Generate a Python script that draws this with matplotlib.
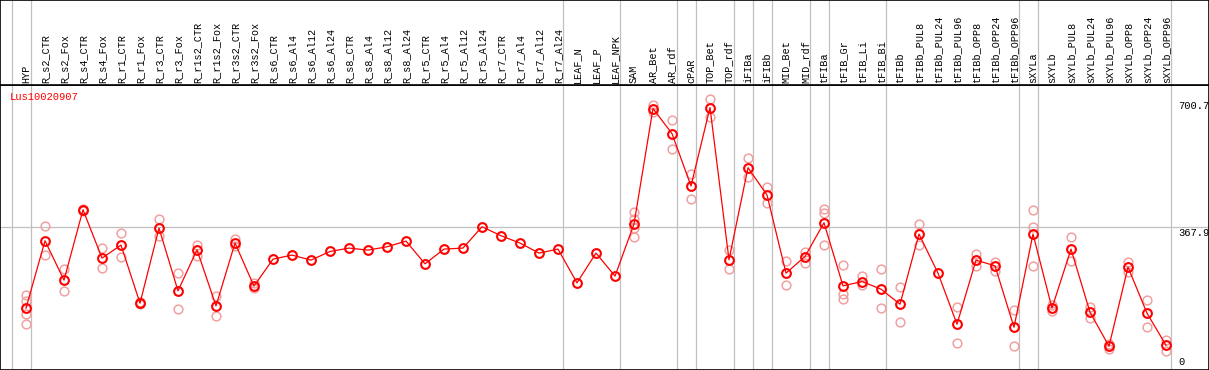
import matplotlib
matplotlib.use('Agg')
import matplotlib.pyplot as plt

### Data

samples = ['HYP', 'R_s2_CTR', 'R_s2_Fox', 'R_s4_CTR', 'R_s4_Fox', 'R_r1_CTR', 'R_r1_Fox',
           'R_r3_CTR', 'R_r3_Fox', 'R_r1s2_CTR', 'R_r1s2_Fox', 'R_r3s2_CTR', 'R_r3s2_Fox',
           'R_s6_CTR', 'R_s6_Al4', 'R_s6_Al12', 'R_s6_Al24', 'R_s8_CTR', 'R_s8_Al4',
           'R_s8_Al12', 'R_s8_Al24', 'R_r5_CTR', 'R_r5_Al4', 'R_r5_Al12', 'R_r5_Al24',
           'R_r7_CTR', 'R_r7_Al4', 'R_r7_Al12', 'R_r7_Al24', 'LEAF_N', 'LEAF_P', 'LEAF_NPK',
           'SAM', 'AR_Bet', 'AR_rdf', 'cPAR', 'TOP_Bet', 'TOP_rdf', 'iFIBa', 'iFIBb',
           'MID_Bet', 'MID_rdf', 'tFIBa', 'tFIB_Gr', 'tFIB_Li', 'tFIB_Bi', 'tFIBb',
           'tFIBb_PUL8', 'tFIBb_PUL24', 'tFIBb_PUL96', 'tFIBb_OPP8', 'tFIBb_OPP24',
           'tFIBb_OPP96', 'sXYLa', 'sXYLb', 'sXYLb_PUL8', 'sXYLb_PUL24', 'sXYLb_PUL96',
           'sXYLb_OPP8', 'sXYLb_OPP24', 'sXYLb_OPP96']

# mean expression per sample
means = [158.6, 332.9, 231.1, 413.2, 288.1, 321.8, 171.5, 365.8, 203.4, 309.6, 164.5,
         327.0, 215.6, 285.5, 295.9, 282.9, 305.2, 314.0, 308.8, 317.4, 332.1, 273.3,
         311.4, 314.0, 369.2, 345.9, 327.0, 301.1, 311.4, 224.1, 301.1, 241.5, 376.2,
         674.9, 610.1, 474.6, 677.5, 283.7, 522.0, 451.3, 249.2, 292.2, 379.5, 216.3,
         227.5, 207.8, 168.9, 350.3, 249.2, 117.1, 282.9, 268.1, 109.3, 350.3, 158.6,
         311.4, 148.2, 60.1, 264.8, 145.6, 62.7]

# individual replicates
replicates = [[193.0, 177.5, 143.0, 117.1], [371.8, 295.9], [259.6, 203.4], [415.8, 410.6],
              [314.0, 262.2], [352.9, 291.5], [174.9, 168.4], [389.1, 344.1], [249.2, 156.7],
              [322.6, 294.8], [191.2, 137.8], [336.3, 320.0], [223.3, 210.4],
              [], [], [], [], [], [], [], [], [], [], [], [], [], [], [], [], [], [], [],
              [408.1, 389.1, 365.8, 342.5], [683.5, 666.3], [645.6, 570.5], [506.5, 441.7],
              [700.7, 653.4], [307.8, 259.6], [547.2, 497.9], [472.8, 430.6], [280.3, 218.1],
              [304.4, 275.1], [414.0, 403.6, 322.6], [270.7, 194.8, 181.9], [243.0, 218.9],
              [259.6, 158.6], [213.0, 122.3], [376.2, 321.8], [], [162.7, 67.9],
              [299.2, 268.9], [277.7, 255.2], [153.4, 61.7], [412.5, 368.4, 268.9],
              [167.1, 151.6], [342.5, 280.3], [162.7, 133.4], [66.1, 53.9], [278.5, 253.4],
              [179.3, 109.3], [77.2, 48.7]]

# grey separators drawn after these sample indices
group_ends = [-1, 0, 28, 31, 34, 35, 37, 38, 39, 41, 42, 45, 52, 53, 60]

gene = 'Lus10020907'
y_max = 735.8
y_ticks = [700.7, 367.9]

### Set up figure

fig = plt.figure(figsize=(12.09, 3.70), dpi=100)
head_h = 85 / 370
ax = fig.add_axes([0, 0, 1, 1 - head_h])
hax = fig.add_axes([0, 1 - head_h, 1, head_h], sharex=ax)

x = list(range(len(samples)))
xlim = (-26 / 19, (1209 - 26) / 19)

font = 'Liberation Mono'
grey = '#c0c0c0'

for a in (ax, hax):
    for s in a.spines.values():
        s.set_color('black')
        s.set_linewidth(1.2)
    a.tick_params(left=False, bottom=False, labelleft=False, labelbottom=False)
    for g in group_ends:
        a.axvline(g + 0.25, color=grey, lw=0.9, zorder=0)

### Header labels

for i, name in enumerate(samples):
    hax.text(i, 0.025, name, rotation=90, ha='center', va='bottom',
             family=font, fontsize=7.3)
hax.set_ylim(0, 1)

### Plot

ax.axhline(y_ticks[1], color=grey, lw=0.9, zorder=0)

for i, reps in enumerate(replicates):
    if reps:
        ax.plot([i] * len(reps), reps, 'o', ms=6.3, mfc='none', mec='#f0a0a0',
                mew=1.1, zorder=2)

ax.plot(x, means, '-', color='red', lw=0.9, zorder=3)
ax.plot(x, means, 'o', ms=6.3, mfc='none', mec='red', mew=1.5, zorder=4)

ax.set_xlim(*xlim)
ax.set_ylim(-1.3, y_max)

ax.text(9.3 / 1209, 0.975, gene, transform=ax.transAxes, color='red',
        family=font, fontsize=7.6, ha='left', va='top')

ytr = ax.get_yaxis_transform()
ax.text(0.9745, y_ticks[0] - 6, '%.1f' % y_ticks[0], transform=ytr, ha='left', va='top',
        family=font, fontsize=7.6)
ax.text(0.9745, y_ticks[1] - 1, '%.1f' % y_ticks[1], transform=ytr, ha='left', va='top',
        family=font, fontsize=7.6)
ax.text(0.9745, 6, '0', transform=ytr, ha='left', va='bottom', family=font, fontsize=7.6)

fig.savefig('out.png', dpi=100)
plt.close(fig)
